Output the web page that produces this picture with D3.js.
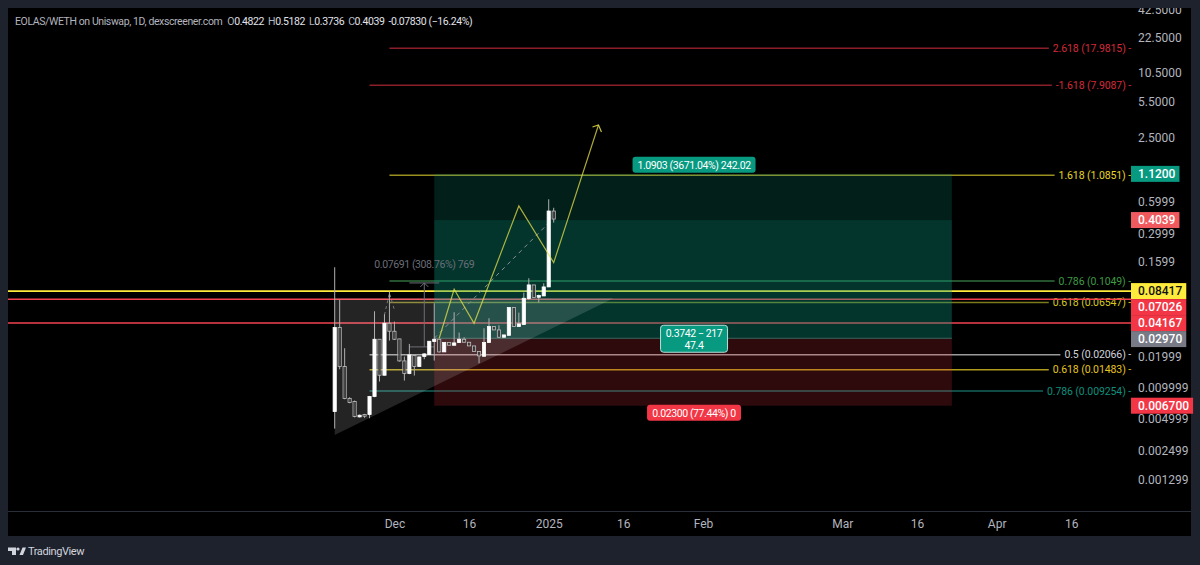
<!DOCTYPE html>
<html>
<head>
<meta charset="utf-8">
<title>EOLAS/WETH</title>
<script src="https://d3js.org/d3.v7.min.js"></script>
<style>
    html, body { margin: 0; padding: 0; background: #1e222d; overflow: hidden; }
    svg { display: block; }
    text { font-family: Roboto, sans-serif; }
    .small { font-size: 10.5px; letter-spacing: -0.4px; }
    .fib { font-size: 10.5px; letter-spacing: -0.1px; }
</style>
</head>
<body>
<svg id="chart" width="1200" height="565"></svg>
<script>
// candles, one per day from firstDay
var firstDay = new Date(Date.UTC(2024, 10, 19));
var opens = [0.00576, 0.03678, 0.01555, 0.00767, 0.00718, 0.00512, 0.00539, 0.00539, 0.00802, 0.02843, 0.01284, 0.04047, 0.03392, 0.02864, 0.01762, 0.01332, 0.01983, 0.01555, 0.01939, 0.02027, 0.02700, 0.02843, 0.02150, 0.02642, 0.02490, 0.02642, 0.02843, 0.02661, 0.02454, 0.02166, 0.01953, 0.02642, 0.03760, 0.03493, 0.02971, 0.03100, 0.05720, 0.03760, 0.03930, 0.06976, 0.09434, 0.07184, 0.07399, 0.09027, 0.4822];
var highs = [0.1393, 0.06774, 0.02331, 0.00790, 0.00734, 0.00539, 0.00547, 0.00814, 0.05275, 0.02843, 0.04937, 0.08141, 0.04199, 0.02864, 0.01939, 0.02565, 0.01990, 0.01930, 0.02088, 0.02720, 0.06293, 0.02850, 0.02642, 0.02642, 0.05160, 0.03294, 0.02971, 0.02661, 0.02454, 0.02180, 0.03624, 0.04520, 0.03760, 0.03872, 0.02971, 0.05720, 0.05720, 0.05122, 0.07963, 0.1093, 0.09434, 0.07620, 0.09788, 0.6251, 0.5182];
var lows = [0.003956, 0.01466, 0.00756, 0.00692, 0.00506, 0.00505, 0.00501, 0.00497, 0.00790, 0.01117, 0.01280, 0.02761, 0.02802, 0.01736, 0.01142, 0.01313, 0.01275, 0.01550, 0.01828, 0.02010, 0.01775, 0.02119, 0.02150, 0.02490, 0.02470, 0.02620, 0.02640, 0.02454, 0.02166, 0.01674, 0.01940, 0.02642, 0.03493, 0.02950, 0.02971, 0.03100, 0.03760, 0.03760, 0.03930, 0.06774, 0.07132, 0.06387, 0.07399, 0.09027, 0.3736];
var closes = [0.03678, 0.01555, 0.00767, 0.00703, 0.00516, 0.00531, 0.00520, 0.00802, 0.02843, 0.01284, 0.04047, 0.03392, 0.02843, 0.01762, 0.01332, 0.02012, 0.01555, 0.01925, 0.02057, 0.02720, 0.02843, 0.02150, 0.02642, 0.02490, 0.02622, 0.02843, 0.02661, 0.02454, 0.02166, 0.01968, 0.02642, 0.03760, 0.03493, 0.02971, 0.03128, 0.05720, 0.03760, 0.03988, 0.07027, 0.09434, 0.07132, 0.07453, 0.09027, 0.4822, 0.4039];

// price axis
var priceTicks = [42.5, 22.5, 10.5, 5.5, 2.5, 1.2, 0.5999, 0.2999, 0.1599, 0.01999, 0.009999, 0.004999, 0.002499, 0.001299];
var priceTickLabels = ["42.5000", "22.5000", "10.5000", "5.5000", "2.5000", "1.2000", "0.5999", "0.2999", "0.1599", "0.01999", "0.009999", "0.004999", "0.002499", "0.001299"];

// time axis
var timeTicks = ["2024-12-01", "2024-12-16", "2025-01-01", "2025-01-16", "2025-02-01", "2025-03-01", "2025-03-16", "2025-04-01", "2025-04-16"];
var timeTickLabels = ["Dec", "16", "2025", "16", "Feb", "Mar", "16", "Apr", "16"];

// fib levels
var fibLabels = ["2.618 (17.9815) -", "-1.618 (7.9087) -", "1.618 (1.0851) -", "0.786 (0.1049) -", "0.618 (0.06547) -", "0.5 (0.02066) -", "0.618 (0.01483) -", "0.786 (0.009254) -"];
var fibPrices = [17.9815, 7.9087, 1.0851, 0.1049, 0.06547, 0.02066, 0.01483, 0.009254];
var fibStarts = ["2024-11-30", "2024-11-26", "2024-11-30", "2024-11-30", "2024-11-30", "2024-11-26", "2024-11-26", "2024-11-26"];

// long position tool
var boxStart = "2024-12-09";
var boxEnd = "2025-03-23";
var targetPrice = 1.12;
var currentPrice = 0.4039;
var entryPrice = 0.0297;
var stopPrice = 0.0067;

// full width levels and the tags on the price axis
var levelPrices = [0.08417, 0.07026, 0.04167];
var tagPrices = [1.12, 0.4039, 0.08417, 0.07026, 0.04167, 0.0297, 0.0067];
var tagLabels = ["1.1200", "0.4039", "0.08417", "0.07026", "0.04167", "0.02970", "0.006700"];

// hand drawn stuff
var zigzagDates = ["2024-12-10", "2024-12-13", "2024-12-17", "2024-12-26", "2025-01-02", "2025-01-11"];
var zigzagPrices = [0.02906, 0.0857, 0.04047, 0.5395, 0.1544, 3.226];
var dashDates = ["2024-12-09", "2025-01-01"];
var dashPrices = [0.02906, 0.3707];
var smallDashDates = ["2024-11-29", "2024-11-30", "2024-12-01"];
var smallDashPrices = [0.04865, 0.07905, 0.05432];
var triangleDates = ["2024-11-19", "2024-11-19", "2025-01-14"];
var trianglePrices = [0.00344, 0.07026, 0.07026];
var measureTop = 0.0986;
var measureBottom = 0.02401;

var svg = d3.select("#chart");
var day = function(s) { return new Date(s + "T00:00:00Z"); };

var x = d3.scaleUtc()
    .domain([firstDay, day("2025-04-16")])
    .range([334.7, 1071.3]);
var y = d3.scaleLog()
    .domain([22.5, 0.001299])
    .range([38, 480]);

// panel
svg.append("rect").attr("x", 8).attr("y", 8).attr("width", 1183).attr("height", 528).attr("fill", "#000");
svg.append("line").attr("x1", 8).attr("x2", 1191).attr("y1", 511.5).attr("y2", 511.5).attr("stroke", "#2a2e39");
svg.append("defs").append("clipPath").attr("id", "panel")
    .append("rect").attr("x", 8).attr("y", 8).attr("width", 1183).attr("height", 503);

var plot = svg.append("g").attr("clip-path", "url(#panel)");

// axes
var yAxis = d3.axisRight(y)
    .tickValues(priceTicks)
    .tickSize(0)
    .tickPadding(0)
    .tickFormat(function(d, i) { return priceTickLabels[i]; });
var yg = plot.append("g").attr("transform", "translate(1138,0)").call(yAxis);
yg.select(".domain").remove();
yg.selectAll("text").attr("fill", "#b2b5be").style("font-size", "12px").style("font-family", "Roboto, sans-serif");

var xAxis = d3.axisBottom(x)
    .tickValues(timeTicks.map(day))
    .tickSize(0)
    .tickPadding(0)
    .tickFormat(function(d, i) { return timeTickLabels[i]; });
var xg = svg.append("g").attr("transform", "translate(0,519)").call(xAxis);
xg.select(".domain").remove();
xg.selectAll("text").attr("fill", "#b2b5be").style("font-size", "12px").style("font-family", "Roboto, sans-serif");

// fib levels, the line stops where the label starts
var fibColors = ["#d4293a", "#d4293a", "#e6d625", "#3f9a44", "#d6c81f", "#d1d4dc", "#e6c51d", "#0f8f7c"];
var fibLineColors = ["#8a1f2a", "#8a1f2a", "#9a9020", "#2f6e3c", "#7d7a1c", "#9a9a9a", "#b09a1a", "#14655b"];
fibLabels.forEach(function(label, i) {
    var t = plot.append("text")
        .attr("x", 1131)
        .attr("y", y(fibPrices[i]) + 3.5)
        .attr("text-anchor", "end")
        .attr("class", "fib")
        .attr("fill", fibColors[i])
        .text(label);
    var w = t.node().getComputedTextLength();
    plot.append("line")
        .attr("x1", x(day(fibStarts[i])))
        .attr("x2", 1131 - w - 4)
        .attr("y1", y(fibPrices[i]))
        .attr("y2", y(fibPrices[i]))
        .attr("stroke", fibLineColors[i])
        .attr("stroke-width", 1.5);
});

// full width levels
var levelColors = ["#ffeb3b", "#f2424f", "#f2424f"];
var levelWidths = [1.8, 1.4, 1.4];
levelPrices.forEach(function(p, i) {
    plot.append("line")
        .attr("x1", 8).attr("x2", 1131)
        .attr("y1", y(p)).attr("y2", y(p))
        .attr("stroke", levelColors[i])
        .attr("stroke-width", levelWidths[i]);
});

// position boxes go over the lines, see through
var bx = x(day(boxStart)), bw = x(day(boxEnd)) - bx;
var boxes = [[targetPrice, currentPrice, "#089981", 0.2], [currentPrice, entryPrice, "#089981", 0.35], [entryPrice, stopPrice, "#f23645", 0.19]];
plot.selectAll(".box").data(boxes).enter().append("rect")
    .attr("x", bx).attr("width", bw)
    .attr("y", function(d) { return y(d[0]); })
    .attr("height", function(d) { return y(d[1]) - y(d[0]); })
    .attr("fill", function(d) { return d[2]; })
    .attr("fill-opacity", function(d) { return d[3]; });
plot.append("line").attr("x1", bx).attr("x2", bx + bw).attr("y1", y(entryPrice)).attr("y2", y(entryPrice))
    .attr("stroke", "#3f6660").attr("stroke-width", 1);

// these were read against a fit 1px higher
var hand = plot.append("g").attr("transform", "translate(0,-1)");

// triangle
var priceLine = d3.line()
    .x(function(d) { return x(day(d[0])); })
    .y(function(d) { return y(d[1]); });
hand.append("path")
    .attr("d", priceLine(d3.zip(triangleDates, trianglePrices)) + "Z")
    .attr("fill", "#fff").attr("fill-opacity", 0.14);

// price range measure
var mx = x(day("2024-12-07")), mLeft = x(day("2024-12-04"));
var measureColor = "#6b6f78";
var measure = hand.append("g").attr("stroke", measureColor).attr("fill", "none").attr("stroke-width", 1);
measure.append("line").attr("x1", mLeft).attr("x2", x(day("2024-12-10"))).attr("y1", y(measureTop)).attr("y2", y(measureTop));
measure.append("line").attr("x1", mLeft).attr("x2", x(day("2024-12-09"))).attr("y1", y(measureBottom)).attr("y2", y(measureBottom));
measure.append("line").attr("x1", mx).attr("x2", mx).attr("y1", y(measureTop)).attr("y2", y(measureBottom));
measure.append("path").attr("d", "M" + (mx - 4) + "," + (y(measureTop) + 4) + "L" + mx + "," + y(measureTop) + "L" + (mx + 4) + "," + (y(measureTop) + 4));
hand.append("text").attr("x", mx).attr("y", y(measureTop) - 15).attr("text-anchor", "middle")
    .attr("class", "small").attr("fill", "#6b6f78").text("0.07691 (308.76%) 769");

// dashes
hand.append("path").attr("d", priceLine(d3.zip(dashDates, dashPrices)))
    .attr("fill", "none").attr("stroke", "#8a8f98").attr("stroke-dasharray", "4,4");
hand.append("path").attr("d", priceLine(d3.zip(smallDashDates, smallDashPrices)))
    .attr("fill", "none").attr("stroke", "#777").attr("stroke-dasharray", "3,3");

// candles
var candles = opens.map(function(o, i) {
    return { date: d3.utcDay.offset(firstDay, i), o: o, h: highs[i], l: lows[i], c: closes[i] };
});
var candle = hand.selectAll(".candle").data(candles).enter().append("g").attr("class", "candle");
candle.append("line")
    .attr("x1", function(d) { return x(d.date); })
    .attr("x2", function(d) { return x(d.date); })
    .attr("y1", function(d) { return y(d.h); })
    .attr("y2", function(d) { return y(d.l); })
    .attr("stroke", "#b0b0b0")
    .attr("stroke-width", 1);
candle.append("rect")
    .attr("x", function(d) { return x(d.date) - 1.6; })
    .attr("width", 3.2)
    .attr("y", function(d) { return y(Math.max(d.o, d.c)); })
    .attr("height", function(d) { return Math.max(1.5, Math.abs(y(d.o) - y(d.c))); })
    .attr("fill", function(d) { return d.c >= d.o ? "#fff" : "#222"; })
    .attr("fill-opacity", function(d) { return d.c >= d.o ? 1 : 0.7; })
    .attr("stroke", function(d) { return d.c >= d.o ? "#fff" : "#c0c0c0"; })
    .attr("stroke-width", 0.8);

// zigzag with the arrow
var zigzag = d3.zip(zigzagDates, zigzagPrices);
var zigzagColor = "#e6e04a";
hand.append("path").attr("d", priceLine(zigzag))
    .attr("fill", "none").attr("stroke", zigzagColor).attr("stroke-opacity", 0.75).attr("stroke-width", 1.2);
var tip = zigzag[zigzag.length - 1];
var tx = x(day(tip[0])), ty = y(tip[1]);
hand.append("path").attr("d", "M" + (tx - 6) + "," + (ty + 2) + "L" + tx + "," + ty + "L" + (tx + 3) + "," + (ty + 7))
    .attr("fill", "none").attr("stroke", zigzagColor).attr("stroke-opacity", 0.85).attr("stroke-width", 1.2);

// callouts on the position tool
function callout(cx, top, w, h, lines, fill, border) {
    svg.append("rect").attr("x", cx - w / 2).attr("y", top).attr("width", w).attr("height", h).attr("rx", 3)
        .attr("fill", fill).attr("stroke", border || "none");
    lines.forEach(function(s, i) {
        svg.append("text").attr("x", cx).attr("y", top + 12 + i * 12).attr("text-anchor", "middle")
            .attr("class", "small").attr("fill", "#fff").text(s);
    });
}
var boxMid = bx + bw / 2 + 1;
callout(boxMid, y(targetPrice) - 17, 123, 16, ["1.0903 (3671.04%) 242.02"], "#089981");
callout(boxMid, y(entryPrice) - 13, 67, 27, ["0.3742 − 217", "47.4"], "#089981", "#b9ded8");
callout(boxMid, y(stopPrice) - 1, 94, 16, ["0.02300 (77.44%) 0"], "#f23645");

// tags on the price axis, pushed down when they overlap
var tagFill = ["#089981", "#f05a5e", "#ffeb3b", "#f23645", "#f23645", "#787b86", "#f23645"];
var tagText = ["#fff", "#fff", "#111", "#fff", "#fff", "#fff", "#fff"];
var lastBottom = -100;
tagPrices.forEach(function(p, i) {
    var top = Math.max(y(p) - 8, lastBottom);
    lastBottom = top + 16;
    var t = svg.append("text").attr("x", 1138).attr("y", top + 12.3)
        .attr("fill", tagText[i]).style("font-size", "12px").style("font-weight", 500).text(tagLabels[i]);
    var w = t.node().getComputedTextLength();
    svg.insert("rect", function() { return t.node(); })
        .attr("x", 1131).attr("y", top).attr("width", w + 11).attr("height", 16)
        .attr("fill", tagFill[i]);
});

// legend line
var legend = svg.append("text").attr("x", 15).attr("y", 25).attr("class", "small").attr("fill", "#b2b5be");
legend.append("tspan").text("EOLAS/WETH on Uniswap, 1D, dexscreener.com");
var ohlc = [["O", "0.4822"], ["H", "0.5182"], ["L", "0.3736"], ["C", "0.4039"]];
ohlc.forEach(function(d, i) {
    legend.append("tspan").attr("dx", i == 0 ? 5 : 4).text(d[0]);
    legend.append("tspan").attr("fill", "#e0e3eb").text(d[1]);
});
legend.append("tspan").attr("dx", 4).attr("fill", "#e0e3eb").text("-0.07830 (−16.24%)");

// TradingView mark
svg.append("path").attr("d", "M8,547.5h8v7.5h-4v-4h-4zM19.5,555l3,-7.5h3.5l-3,7.5z").attr("fill", "#d1d4dc");
svg.append("circle").attr("cx", 18).attr("cy", 549).attr("r", 1.6).attr("fill", "#d1d4dc");
svg.append("text").attr("x", 28).attr("y", 555).attr("fill", "#d1d4dc")
    .style("font-size", "11px").style("letter-spacing", "-0.4px").text("TradingView");
</script>
</body>
</html>
